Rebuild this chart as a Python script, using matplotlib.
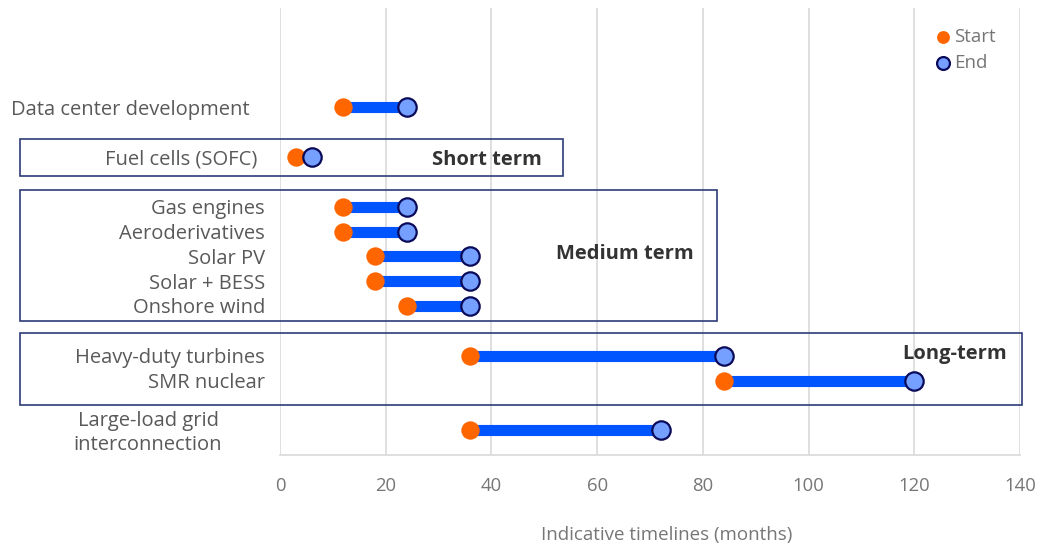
import numpy as np
import matplotlib
matplotlib.use("Agg")
from matplotlib import pyplot as plt
from matplotlib.patches import Rectangle
from matplotlib.transforms import blended_transform_factory

plt.rcParams['font.family'] = ['Open Sans', 'DejaVu Sans']

# technologies, their row slot (gaps between groups) and timelines in months
techs = ['Data center development', 'Fuel cells (SOFC)', 'Gas engines', 'Aeroderivatives',
         'Solar PV', 'Solar + BESS', 'Onshore wind', 'Heavy-duty turbines', 'SMR nuclear',
         'Large-load grid\ninterconnection']
slots = [0, 2, 4, 5, 6, 7, 8, 10, 11, 13]
start = [12, 3, 12, 12, 18, 18, 24, 36, 84, 36]
end = [24, 6, 24, 24, 36, 36, 36, 84, 120, 72]

# right edge (px) of each category label
label_right = [250, 257, 265, 265, 265, 265, 265, 265, 265, 221]

label_col = '#595959'
tick_col = '#767676'
box_col = '#2E3B78'
W, H = 1051, 547

fig = plt.figure(figsize=(W / 100, H / 100), dpi=100)
ax = fig.add_axes([280 / W, 1 - 455 / H, 740 / W, 447 / H])

for y, s, e in zip(slots, start, end):
    ax.plot([s, e], [y, y], color='#0055FF', lw=8, solid_capstyle='butt', zorder=3)
ax.scatter(start, slots, s=175, color='#FF6600', zorder=4, label='Start', linewidths=0)
ax.scatter(end, slots, s=175, color='#76A0FF', edgecolors='#0A0A5A', linewidths=1.6,
           zorder=5, label='End')

ax.set_xlim(0, 140)
ax.set_ylim(14, -4)
ax.set_xticks(np.arange(0, 141, 20))
ax.set_yticks([])
ax.tick_params(axis='x', length=0, pad=16, labelsize=13.3, labelcolor=tick_col)
ax.xaxis.grid(True, color='#D9D9D9', lw=1.2)
ax.set_axisbelow(True)
for side in ['top', 'right', 'left']:
    ax.spines[side].set_visible(False)
ax.spines['bottom'].set_color('#D9D9D9')
ax.spines['bottom'].set_linewidth(1.2)
fig.text(667 / W, 1 - 535 / H, 'Indicative timelines (months)', fontsize=13.5, color=tick_col,
         ha='center', va='center')

# category labels
trans = blended_transform_factory(fig.transFigure, ax.transData)
for name, y, xr in zip(techs, slots, label_right):
    if '\n' in name:
        ax.text(148 / W, y + 0.1, name, transform=trans, ha='center', va='center',
                fontsize=14.5, color=label_col, multialignment='center', linespacing=1.25)
    else:
        ax.text(xr / W, y + 0.1, name, transform=trans, ha='right', va='center',
                fontsize=14.5, color=label_col)

# term group boxes, drawn in figure pixels so they reach into the label area
def px_box(x0, y0, x1, y1):
    fig.patches.append(Rectangle((x0 / W, 1 - y1 / H), (x1 - x0) / W, (y1 - y0) / H,
                                 transform=fig.transFigure, fill=False, ec=box_col, lw=1.2,
                                 zorder=6))

px_box(20, 139, 563, 176)
px_box(20, 190, 717, 321)
px_box(20, 333, 1022, 405)
for txt, x, y in [('Short term', 487, 160), ('Medium term', 625, 254), ('Long-term', 955, 354)]:
    fig.text(x / W, 1 - y / H, txt, fontsize=14.5, fontweight='bold', color='#333333',
             ha='center', va='center')

leg = ax.legend(loc='upper right', bbox_to_anchor=(0.985, 0.985), frameon=False, fontsize=13.5,
                handletextpad=0.1, handlelength=1.0, labelspacing=0.45, markerscale=0.7,
                borderaxespad=0.3)
for t in leg.get_texts():
    t.set_color(tick_col)

fig.savefig('out.png', dpi=100)
